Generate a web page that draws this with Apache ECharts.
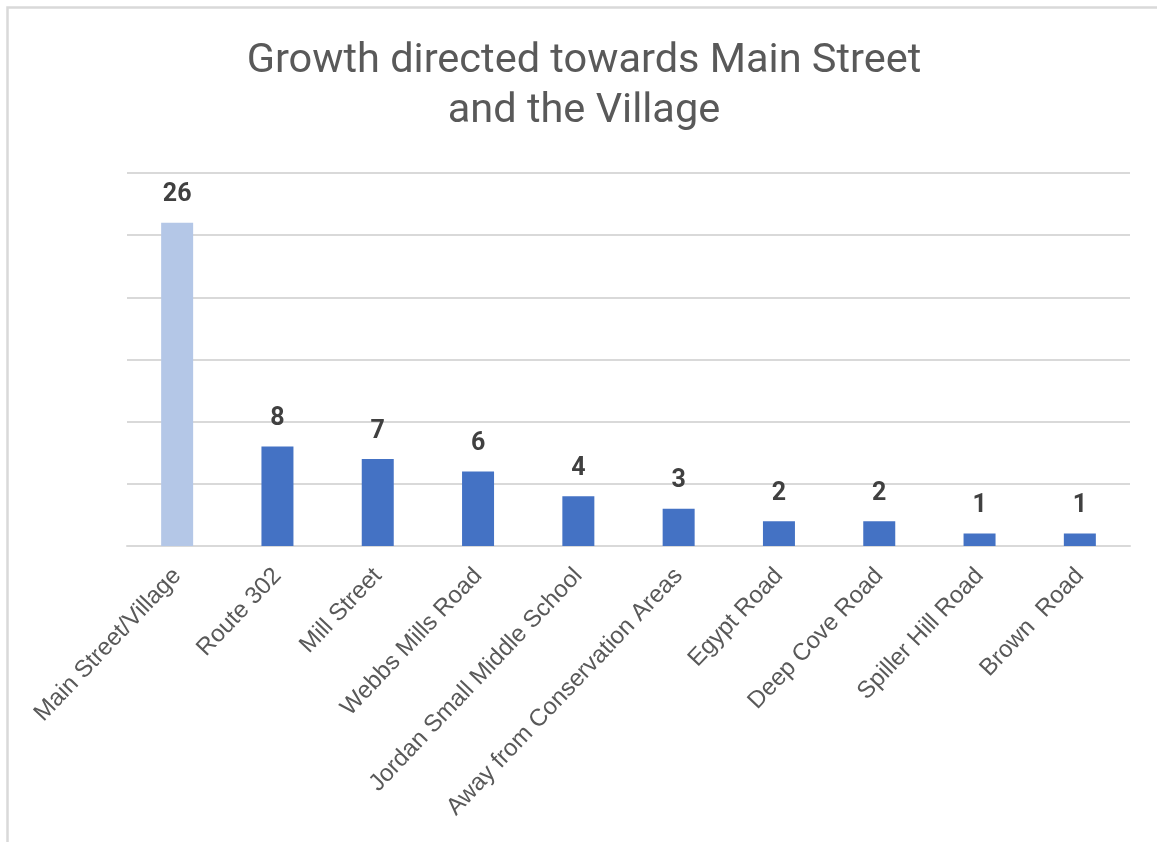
<!DOCTYPE html>
<html>
<head>
<meta charset="utf-8">
<script src="https://cdn.jsdelivr.net/npm/echarts@6/dist/echarts.min.js"></script>
<style>
  html, body { margin: 0; padding: 0; background: #ffffff; }
  #chart { width: 1157px; height: 842px; }
</style>
</head>
<body>
<div id="chart"></div>
<script>
const titleLines = ['Growth directed towards Main Street', 'and the Village'];
const categories = [
  'Main Street/Village',
  'Route 302',
  'Mill Street',
  'Webbs Mills Road',
  'Jordan Small Middle School',
  'Away from Conservation Areas',
  'Egypt Road',
  'Deep Cove Road',
  'Spiller Hill Road',
  'Brown  Road'
];
const responses = [26, 8, 7, 6, 4, 3, 2, 2, 1, 1];
const highlightIndex = 0;

const chart = echarts.init(document.getElementById('chart'), null, { renderer: 'canvas' });

chart.setOption({
  backgroundColor: '#ffffff',
  animation: false,
  graphic: [{
    type: 'rect',
    shape: { x: 7.5, y: 7.5, width: 1200, height: 900 },
    style: { fill: 'none', stroke: '#d9d9d9', lineWidth: 2.5 },
    silent: true
  }],
  title: {
    text: titleLines.join('\n'),
    left: 579,
    textAlign: 'center',
    top: 32,
    textStyle: {
      fontFamily: 'Roboto',
      fontWeight: 'normal',
      fontSize: 41.5,
      lineHeight: 50,
      color: '#595959'
    }
  },
  grid: { left: 127, right: 27, top: 173, bottom: 296, containLabel: false },
  xAxis: {
    type: 'category',
    data: categories,
    axisLine: { show: true, lineStyle: { color: '#d9d9d9', width: 2 } },
    axisTick: { show: false },
    axisLabel: {
      interval: 0,
      rotate: 46.5,
      margin: 26,
      fontFamily: 'Liberation Sans',
      fontSize: 24,
      color: '#595959'
    }
  },
  yAxis: {
    type: 'value',
    min: 0,
    max: 30,
    interval: 5,
    axisLine: { show: false },
    axisTick: { show: false },
    axisLabel: { show: false },
    splitLine: { lineStyle: { color: '#d9d9d9', width: 2 } }
  },
  series: [{
    type: 'bar',
    barWidth: 32,
    data: responses.map((v, i) => ({
      value: v,
      itemStyle: { color: i === highlightIndex ? '#b4c7e7' : '#4472c4' }
    })),
    label: {
      show: true,
      position: 'top',
      distance: 15,
      fontFamily: 'Roboto',
      fontWeight: 'bold',
      fontSize: 25,
      color: '#404040'
    }
  }]
});
</script>
</body>
</html>
